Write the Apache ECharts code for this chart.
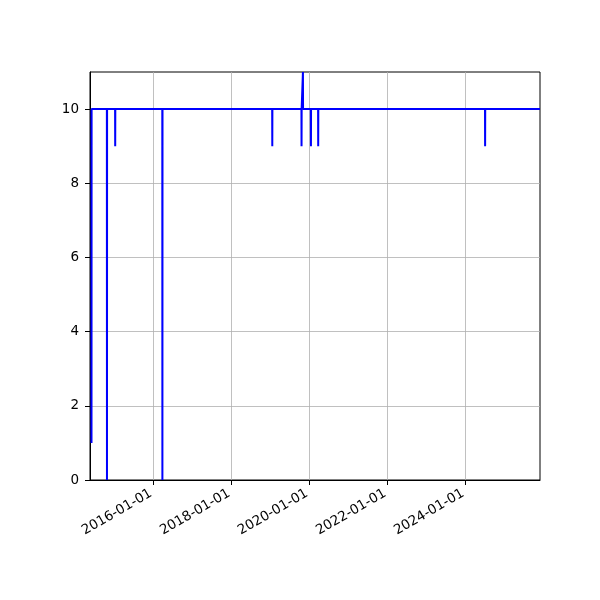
<!DOCTYPE html>
<html>
<head>
<meta charset="utf-8">
<script src="https://cdn.jsdelivr.net/npm/echarts@6/dist/echarts.min.js"></script>
<style>
  html, body { margin: 0; padding: 0; background: #fff; }
  #chart { width: 600px; height: 600px; }
</style>
</head>
<body>
<div id="chart"></div>
<script>
// readings, one point per day around each dip / jump
var dates = [
  '2014-05-29', '2014-05-30',
  '2014-10-20', '2014-10-21', '2014-10-22',
  '2015-01-05', '2015-01-06', '2015-01-07',
  '2016-03-22', '2016-03-23', '2016-03-24',
  '2019-01-15', '2019-01-16', '2019-01-17',
  '2019-10-16', '2019-10-17', '2019-10-18',
  '2019-10-29', '2019-10-30', '2019-10-31',
  '2020-01-12', '2020-01-13', '2020-01-14',
  '2020-03-20', '2020-03-21', '2020-03-22',
  '2024-06-30', '2024-07-01', '2024-07-02',
  '2025-11-27'
];
var values = [
  1, 10,
  10, 0, 10,
  10, 9, 10,
  10, 0, 10,
  10, 9, 10,
  10, 9, 10,
  10, 11, 10,
  10, 9, 10,
  10, 9, 10,
  10, 9, 10,
  10
];
var xTicks = ['2016-01-01', '2018-01-01', '2020-01-01', '2022-01-01', '2024-01-01'];
var yTicks = [0, 2, 4, 6, 8, 10];

var xMin = '2014-05-15';
var xMax = '2025-11-27';

function ts(d) { return new Date(d + 'T00:00:00Z').getTime(); }
function fmtDate(v) {
  var d = new Date(v);
  var m = ('0' + (d.getUTCMonth() + 1)).slice(-2);
  var day = ('0' + d.getUTCDate()).slice(-2);
  return d.getUTCFullYear() + '-' + m + '-' + day;
}

var chart = echarts.init(document.getElementById('chart'), null, { renderer: 'canvas' });

var font = { fontFamily: 'DejaVu Sans', fontSize: 13.5, color: '#000' };
var grid = { show: true, lineStyle: { color: '#b0b0b0', width: 0.8 } };

chart.setOption({
  animation: false,
  backgroundColor: '#fff',
  grid: {
    left: 90, right: 60, top: 72, bottom: 120,
    show: true, borderColor: '#000', borderWidth: 1
  },
  xAxis: {
    type: 'value',
    min: ts(xMin),
    max: ts(xMax),
    axisLine: { show: true, onZero: false, lineStyle: { color: '#000', width: 1 } },
    axisTick: {
      show: true, inside: false, length: 5,
      lineStyle: { color: '#000', width: 1 },
      customValues: xTicks.map(ts)
    },
    axisLabel: Object.assign({
      rotate: 30,
      margin: 11,
      padding: [0, 3, 0, 0],
      customValues: xTicks.map(ts),
      formatter: fmtDate
    }, font),
    splitLine: grid
  },
  yAxis: {
    type: 'value',
    min: 0,
    max: 11,
    axisLine: { show: true, lineStyle: { color: '#000', width: 1 } },
    axisTick: {
      show: true, inside: false, length: 5,
      lineStyle: { color: '#000', width: 1 },
      customValues: yTicks
    },
    axisLabel: Object.assign({ margin: 11, customValues: yTicks }, font),
    splitLine: grid
  },
  series: [{
    type: 'line',
    data: dates.map(function (d, i) { return [ts(d), values[i]]; }),
    showSymbol: false,
    symbol: 'none',
    clip: true,
    lineStyle: { color: '#0000ff', width: 2 },
    itemStyle: { color: '#0000ff' }
  }]
});
</script>
</body>
</html>
